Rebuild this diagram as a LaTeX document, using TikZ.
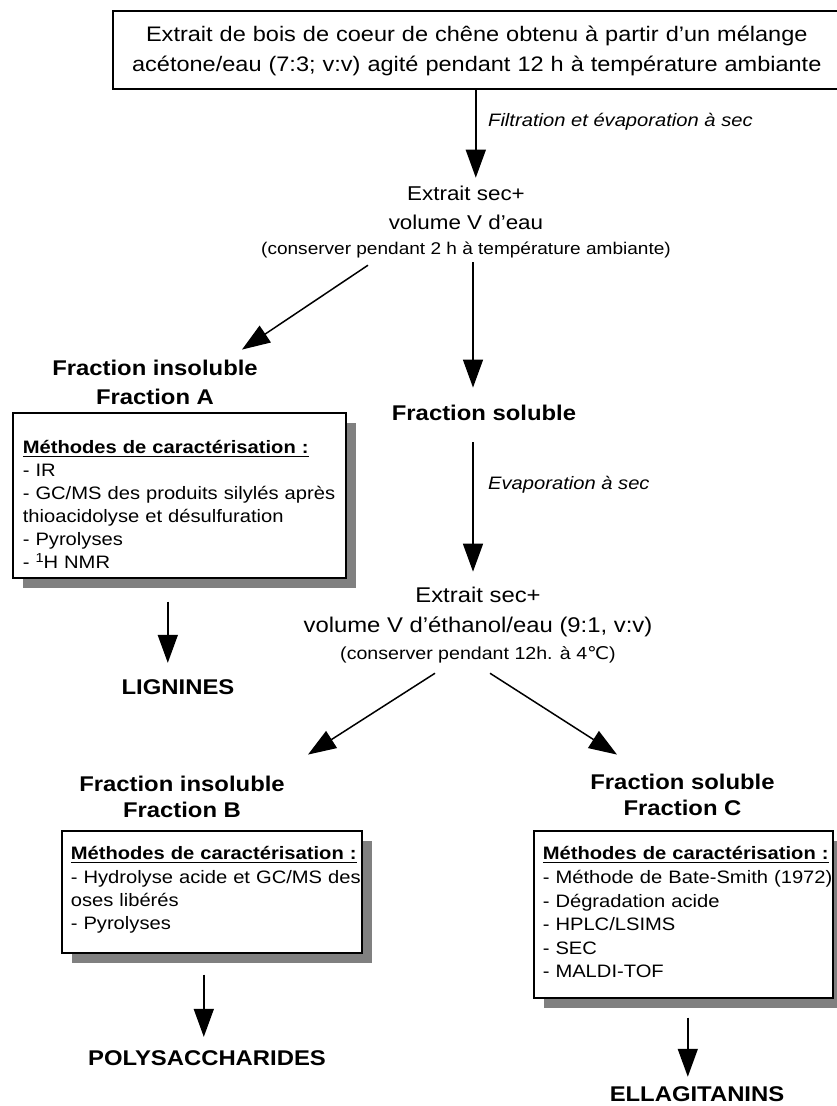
\documentclass[tikz,border=0pt]{standalone}
\usepackage{fontspec}
\setmainfont{Liberation Sans}[FakeStretch=1.12]
\newfontfamily\dejavu{DejaVu Sans}[FakeStretch=1.12]
\usetikzlibrary{arrows.meta,shadows}
\definecolor{shadowgray}{RGB}{128,128,128}
\newcommand{\fs}[2]{\fontsize{#1}{#2}\selectfont}
\newcommand{\myul}[1]{\vtop{\hbox{#1}\kern1.6pt\hrule height 1.8pt}}
\tikzset{
  every node/.style={inner sep=0pt},
  arr/.style={line width=1.5pt, -{Triangle[length=28pt,width=20pt]}},
  txt/.style={align=center},
  hd/.style={align=center, font=\bfseries\fs{21.3}{26}},
  lab/.style={anchor=west, font=\itshape\fs{18}{22}},
  topbox/.style={draw, line width=1.6pt, anchor=north west, align=center,
    text width=728pt, inner xsep=0pt, inner ysep=0pt, font=\fs{21}{30}},
  methbox/.style={draw, line width=1.6pt, fill=white, anchor=north west,
    align=left, inner ysep=0pt,
    general shadow={fill=shadowgray, shadow xshift=10pt, shadow yshift=-10pt}}
}
\begin{document}
\begin{tikzpicture}[x=1pt,y=-1pt]
\useasboundingbox (0,0) rectangle (837,1106);

\node[topbox] (top) at (112,10) {\rule{0pt}{30.5pt}Extrait de bois de coeur de chêne obtenu à partir d’un mélange\\acétone/eau (7:3; v:v) agité pendant 12 h à température ambiante\rule[-17.5pt]{0pt}{17.5pt}};

\node[lab] (flab) at (488,122) {Filtration et évaporation à sec};

\node[txt, font=\fs{20}{29}] (ext1) at (466,221.6) {Extrait sec+\\volume V d’eau\\[-4pt]{\fs{17}{25}(conserver pendant 2 h à température ambiante)}};

\node[hd, font=\bfseries\fs{21.3}{29}] (fracA) at (155,382.6) {Fraction insoluble\\Fraction A};
\node[hd] (fsol) at (484,413.1) {Fraction soluble};

\node[methbox, text width=313pt, inner xsep=10pt, font=\fs{18}{23}] (boxA) at (12,412) {\rule{0pt}{41pt}\myul{\bfseries Méthodes de caractérisation :}\\- IR\\\mbox{- GC/MS des produits silylés après}\\thioacidolyse et désulfuration\\- Pyrolyses\\- \raisebox{6.5pt}{\fs{13}{13}1}H NMR\rule[-9pt]{0pt}{9pt}};

\node[hd] (lig) at (178,687) {LIGNINES};

\node[lab] (elab) at (488,485) {Evaporation à sec};

\node[txt, font=\fs{21.3}{30}] (ext2) at (478,625.2) {Extrait sec+\\volume V d’éthanol/eau (9:1, v:v)\\[-3.4pt]{\fs{17.5}{25}(conserver pendant 12h. à 4{\dejavu ℃})}};

\node[hd] (fracB) at (182,797.1) {Fraction insoluble\\Fraction B};
\node[hd] (fracC) at (682.5,795.1) {Fraction soluble\\Fraction C};

\node[methbox, text width=282pt, inner xsep=9pt, font=\fs{18}{23.3}] (boxB) at (61,830) {\rule{0pt}{29pt}\myul{\bfseries Méthodes de caractérisation :}\\\mbox{- Hydrolyse acide et GC/MS des}\\oses libérés\\- Pyrolyses\rule[-23pt]{0pt}{23pt}};

\node[methbox, text width=281pt, inner xsep=9pt, font=\fs{18}{23.6}] (boxC) at (533,830) {\rule{0pt}{29pt}\myul{\bfseries Méthodes de caractérisation :}\\\mbox{- Méthode de Bate-Smith (1972)}\\- Dégradation acide\\- HPLC/LSIMS\\- SEC\\- MALDI-TOF\rule[-20pt]{0pt}{20pt}};

\node[hd] (poly) at (207,1058) {POLYSACCHARIDES};
\node[hd] (ell) at (697,1094.5) {ELLAGITANINS};

% start points of the vertical connectors
\coordinate (s1) at ([xshift=-1pt]top.south);
\coordinate (s2) at ([xshift=7pt,yshift=-4.4pt]ext1.south);
\coordinate (s4) at ([xshift=-11pt,yshift=-21.3pt]fsol.south);
\coordinate (s7) at ([xshift=-11.5pt,yshift=-23pt]boxA.south);
\coordinate (s8) at ([xshift=-8pt,yshift=-21pt]boxB.south);
\coordinate (s9) at ([xshift=4.5pt,yshift=-19pt]boxC.south);

\draw[arr, shorten >=7.7pt] (s1) -- (s1 |- ext1.north);
\draw[arr, shorten >=17.5pt] (s2) -- (s2 |- fsol.north);
\draw[arr] ([xshift=-98pt,yshift=-7.4pt]ext1.south) -- ([xshift=87pt,yshift=10.5pt]fracA.north);
\draw[arr, shorten >=15.5pt] (s4) -- (s4 |- ext2.north);
\draw[arr] ([xshift=-43pt,yshift=-10pt]ext2.south) -- ([xshift=126pt,yshift=21.5pt]fracB.north);
\draw[arr] ([xshift=12pt,yshift=-10pt]ext2.south) -- ([xshift=-65.5pt,yshift=19.5pt]fracC.north);
\draw[arr, shorten >=16.4pt] (s7) -- (s7 |- lig.north);
\draw[arr, shorten >=13.4pt] (s8) -- (s8 |- poly.north);
\draw[arr, shorten >=10pt] (s9) -- (s9 |- ell.north);
\end{tikzpicture}
\end{document}
